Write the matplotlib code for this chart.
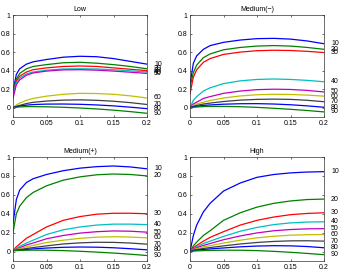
import matplotlib
matplotlib.use("Agg")
import matplotlib.pyplot as plt

plt.rcParams['font.family'] = ['Liberation Sans', 'DejaVu Sans']

x = [0, 0.005, 0.01, 0.02, 0.03, 0.05, 0.075, 0.1, 0.125, 0.15, 0.175, 0.2]
labels = ["10", "20", "30", "40", "50", "60", "70", "80", "90"]
titles = ["Low", "Medium(\u2212)", "Medium(+)", "High"]

low = [
    [0.18, 0.36, 0.42, 0.47, 0.495, 0.52, 0.545, 0.555, 0.55, 0.53, 0.50, 0.47],
    [0.17, 0.31, 0.37, 0.42, 0.445, 0.465, 0.485, 0.49, 0.48, 0.465, 0.445, 0.42],
    [0.16, 0.29, 0.34, 0.385, 0.41, 0.43, 0.445, 0.45, 0.445, 0.43, 0.415, 0.40],
    [0.15, 0.27, 0.32, 0.365, 0.385, 0.405, 0.418, 0.42, 0.418, 0.41, 0.398, 0.385],
    [0.10, 0.25, 0.30, 0.35, 0.375, 0.395, 0.408, 0.41, 0.405, 0.395, 0.383, 0.37],
    [0.0, 0.03, 0.05, 0.08, 0.10, 0.125, 0.145, 0.155, 0.153, 0.145, 0.128, 0.105],
    [0.0, 0.015, 0.025, 0.045, 0.058, 0.072, 0.082, 0.085, 0.08, 0.07, 0.055, 0.035],
    [0.0, 0.01, 0.018, 0.028, 0.034, 0.039, 0.04, 0.037, 0.03, 0.02, 0.006, -0.01],
    [0.0, 0.005, 0.009, 0.012, 0.012, 0.01, 0.005, -0.003, -0.013, -0.026, -0.042, -0.06],
]
med_minus = [
    [0.25, 0.48, 0.56, 0.63, 0.67, 0.705, 0.73, 0.745, 0.748, 0.74, 0.72, 0.69],
    [0.22, 0.38, 0.46, 0.54, 0.58, 0.625, 0.65, 0.665, 0.67, 0.665, 0.65, 0.63],
    [0.15, 0.33, 0.41, 0.49, 0.53, 0.575, 0.60, 0.615, 0.62, 0.617, 0.608, 0.595],
    [0.0, 0.08, 0.12, 0.18, 0.215, 0.26, 0.29, 0.305, 0.31, 0.305, 0.295, 0.28],
    [0.0, 0.04, 0.06, 0.10, 0.12, 0.155, 0.18, 0.195, 0.20, 0.197, 0.187, 0.17],
    [0.0, 0.025, 0.04, 0.06, 0.078, 0.105, 0.127, 0.14, 0.145, 0.143, 0.136, 0.125],
    [0.0, 0.015, 0.025, 0.04, 0.05, 0.067, 0.082, 0.09, 0.093, 0.09, 0.08, 0.065],
    [0.0, 0.01, 0.015, 0.025, 0.03, 0.038, 0.043, 0.044, 0.04, 0.032, 0.02, 0.005],
    [0.0, 0.005, 0.008, 0.012, 0.014, 0.014, 0.011, 0.004, -0.006, -0.017, -0.03, -0.045],
]
med_plus = [
    [0.30, 0.55, 0.65, 0.73, 0.77, 0.815, 0.855, 0.882, 0.898, 0.905, 0.895, 0.875],
    [0.20, 0.40, 0.48, 0.57, 0.625, 0.695, 0.755, 0.79, 0.812, 0.82, 0.815, 0.80],
    [0.01, 0.05, 0.08, 0.14, 0.18, 0.26, 0.33, 0.37, 0.395, 0.405, 0.405, 0.40],
    [0.01, 0.035, 0.055, 0.09, 0.12, 0.18, 0.23, 0.26, 0.28, 0.29, 0.29, 0.285],
    [0.01, 0.025, 0.04, 0.07, 0.09, 0.135, 0.17, 0.195, 0.21, 0.218, 0.215, 0.205],
    [0.01, 0.02, 0.03, 0.05, 0.065, 0.095, 0.12, 0.14, 0.152, 0.157, 0.153, 0.145],
    [0.01, 0.015, 0.02, 0.032, 0.042, 0.06, 0.08, 0.092, 0.098, 0.097, 0.09, 0.078],
    [0.01, 0.012, 0.015, 0.022, 0.028, 0.037, 0.045, 0.048, 0.046, 0.04, 0.03, 0.018],
    [0.01, 0.01, 0.012, 0.014, 0.015, 0.014, 0.01, 0.003, -0.006, -0.016, -0.028, -0.042],
]
high = [
    [0.0, 0.17, 0.28, 0.42, 0.51, 0.64, 0.725, 0.785, 0.815, 0.832, 0.841, 0.845],
    [0.0, 0.06, 0.10, 0.17, 0.22, 0.33, 0.41, 0.47, 0.51, 0.535, 0.55, 0.555],
    [0.0, 0.04, 0.065, 0.11, 0.15, 0.21, 0.28, 0.33, 0.365, 0.39, 0.403, 0.41],
    [0.0, 0.03, 0.05, 0.085, 0.11, 0.16, 0.215, 0.255, 0.285, 0.303, 0.312, 0.315],
    [0.0, 0.025, 0.04, 0.065, 0.085, 0.125, 0.165, 0.197, 0.22, 0.233, 0.24, 0.242],
    [0.0, 0.02, 0.03, 0.05, 0.062, 0.09, 0.12, 0.145, 0.162, 0.173, 0.178, 0.18],
    [0.0, 0.015, 0.02, 0.033, 0.042, 0.06, 0.08, 0.096, 0.107, 0.113, 0.114, 0.11],
    [0.0, 0.01, 0.015, 0.022, 0.028, 0.038, 0.05, 0.058, 0.062, 0.06, 0.053, 0.04],
    [0.0, 0.005, 0.007, 0.01, 0.012, 0.014, 0.014, 0.01, 0.002, -0.008, -0.02, -0.033],
]
panels = [low, med_minus, med_plus, high]

colors = [(0, 0, 1), (0, 0.5, 0), (1, 0, 0), (0, 0.75, 0.75), (0.75, 0, 0.75),
          (0.75, 0.75, 0), (0.25, 0.25, 0.25), (0, 0, 1), (0, 0.5, 0)]

W, H = 342, 275
fig = plt.figure(figsize=(W / 100, H / 100), dpi=100)
boxes = [(13, 15, 147, 117), (190, 15, 324, 117), (13, 157, 147, 261), (190, 157, 324, 261)]

for (l, t, r, b), data, title in zip(boxes, panels, titles):
    ax = fig.add_axes([l / W, (H - b) / H, (r - l) / W, (b - t) / H])
    for ys, c, lab in zip(data, colors, labels):
        ax.plot(x, ys, color=c, lw=0.9)
        ax.annotate(lab, xy=(x[-1], ys[-1]), xytext=(7, 0), textcoords='offset pixels',
                    ha='left', va='center', fontsize=5, annotation_clip=False)
    ax.set_xlim(0, 0.2)
    ax.set_ylim(-0.1, 1)
    ax.set_xticks([0, 0.05, 0.1, 0.15, 0.2])
    ax.set_xticklabels(["0", "0.05", "0.1", "0.15", "0.2"])
    ax.set_yticks([0, 0.2, 0.4, 0.6, 0.8, 1])
    ax.set_yticklabels(["0", "0.2", "0.4", "0.6", "0.8", "1"])
    ax.tick_params(direction='in', length=1.5, width=0.4, labelsize=5, pad=2,
                   top=True, right=True)
    for s in ax.spines.values():
        s.set_linewidth(0.5)
        s.set_color('#333333')
    ax.set_title(title, fontsize=5, pad=3)

fig.savefig("out.png", dpi=100)
